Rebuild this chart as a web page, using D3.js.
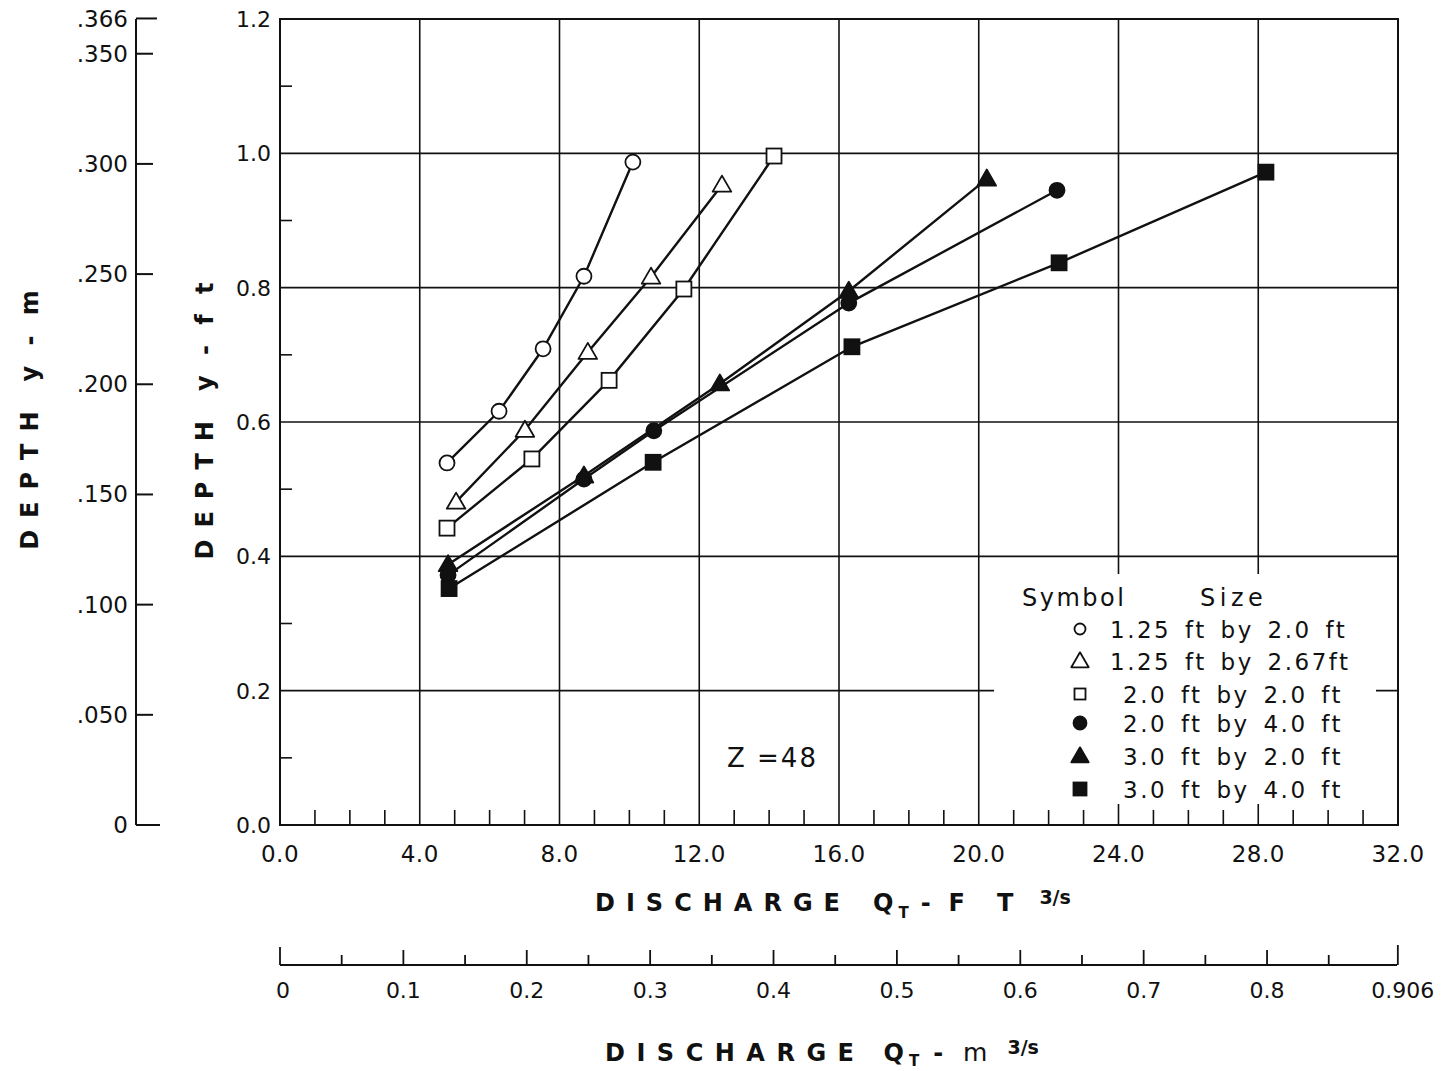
<!DOCTYPE html>
<html>
<head>
<meta charset="utf-8">
<script src="https://cdn.jsdelivr.net/npm/d3@7"></script>
<style>
  html, body { margin: 0; padding: 0; background: #fff; }
  svg { display: block; font-family: "DejaVu Sans", sans-serif; }
</style>
</head>
<body>
<svg id="chart" width="1443" height="1071"></svg>
<script>
// ---------------- DATA ----------------
const seriesLabels = ["1.25 ft by 2.0 ft", "1.25 ft by 2.67ft", "2.0 ft by 2.0 ft",
                      "2.0 ft by 4.0 ft", "3.0 ft by 2.0 ft", "3.0 ft by 4.0 ft"];
const seriesSymbols = ["circle", "triangle", "square", "circle", "triangle", "square"];
const seriesFilled = [false, false, false, true, true, true];

const q_125x20 = [4.78, 6.27, 7.53, 8.70, 10.10];
const y_125x20 = [0.539, 0.616, 0.709, 0.817, 0.987];

const q_125x267 = [5.04, 7.01, 8.81, 10.62, 12.65];
const y_125x267 = [0.481, 0.588, 0.704, 0.816, 0.953];

const q_20x20 = [4.78, 7.21, 9.42, 11.56, 14.14];
const y_20x20 = [0.442, 0.545, 0.662, 0.798, 0.996];

const q_20x40 = [4.81, 8.70, 10.70, 16.28, 22.24];
const y_20x40 = [0.372, 0.515, 0.587, 0.777, 0.945];

const q_30x20 = [4.81, 8.70, 12.59, 16.28, 20.23];
const y_30x20 = [0.388, 0.520, 0.657, 0.795, 0.962];

const q_30x40 = [4.84, 10.68, 16.37, 22.30, 28.22];
const y_30x40 = [0.352, 0.540, 0.712, 0.837, 0.972];

const seriesQ = [q_125x20, q_125x267, q_20x20, q_20x40, q_30x20, q_30x40];
const seriesY = [y_125x20, y_125x267, y_20x20, y_20x40, y_30x20, y_30x40];

const xTicksFt = [0, 4, 8, 12, 16, 20, 24, 28, 32];
const xTickLabelsFt = ["0.0", "4.0", "8.0", "12.0", "16.0", "20.0", "24.0", "28.0", "32.0"];
const yTicksFt = [0, 0.2, 0.4, 0.6, 0.8, 1.0, 1.2];
const yTickLabelsFt = ["0.0", "0.2", "0.4", "0.6", "0.8", "1.0", "1.2"];
const yTicksM = [0, 0.05, 0.10, 0.15, 0.20, 0.25, 0.30, 0.35, 0.366];
const yTickLabelsM = ["0", ".050", ".100", ".150", ".200", ".250", ".300", ".350", ".366"];
const xTicksM = [0, 0.1, 0.2, 0.3, 0.4, 0.5, 0.6, 0.7, 0.8, 0.906];
const xTickLabelsM = ["0", "0.1", "0.2", "0.3", "0.4", "0.5", "0.6", "0.7", "0.8", "0.906"];
const annotation = "Z =48";

// ---------------- LAYOUT ----------------
const svg = d3.select("#chart");
const X0 = 280, X1 = 1398, Y0 = 825, Y1 = 19;
const x = d3.scaleLinear().domain([0, 32]).range([X0, X1]);
const y = d3.scaleLinear().domain([0, 1.2]).range([Y0, Y1]);
const yM = d3.scaleLinear().domain([0, 1.2 * 0.3048]).range([Y0, Y1]);
const xM = d3.scaleLinear().domain([0, 32 * 0.0283168]).range([X0, X1]);

const ink = "#111";

// grid lines
const grid = svg.append("g").attr("stroke", ink).attr("stroke-width", 1.6);
grid.selectAll("line.gx").data(xTicksFt.slice(1, -1)).join("line")
  .attr("x1", d => x(d)).attr("x2", d => x(d)).attr("y1", Y1).attr("y2", Y0);
grid.selectAll("line.gy").data(yTicksFt.slice(1, -1)).join("line")
  .attr("x1", X0).attr("x2", X1).attr("y1", d => y(d)).attr("y2", d => y(d));

// frame
svg.append("rect").attr("x", X0).attr("y", Y1).attr("width", X1 - X0).attr("height", Y0 - Y1)
  .attr("fill", "none").attr("stroke", ink).attr("stroke-width", 2);

// minor ticks (inside)
const minorX = d3.range(1, 32).filter(d => d % 4 !== 0);
svg.append("g").attr("stroke", ink).attr("stroke-width", 1.6)
  .selectAll("line").data(minorX).join("line")
  .attr("x1", d => x(d)).attr("x2", d => x(d)).attr("y1", Y0).attr("y2", Y0 - 15);
const minorY = [0.1, 0.3, 0.5, 0.7, 0.9, 1.1];
svg.append("g").attr("stroke", ink).attr("stroke-width", 1.6)
  .selectAll("line").data(minorY).join("line")
  .attr("x1", X0).attr("x2", X0 + 12).attr("y1", d => y(d)).attr("y2", d => y(d));

// tick labels ft
svg.append("g").selectAll("text").data(xTicksFt).join("text")
  .attr("x", d => x(d)).attr("y", 862).attr("text-anchor", "middle")
  .attr("font-size", 23).attr("letter-spacing", 0.5).attr("fill", ink)
  .text((d, i) => xTickLabelsFt[i]);
svg.append("g").selectAll("text").data(yTicksFt).join("text")
  .attr("x", 271).attr("y", d => y(d) + 8).attr("text-anchor", "end")
  .attr("font-size", 22).attr("fill", ink)
  .text((d, i) => yTickLabelsFt[i]);

// left metric axis
const MX = 136;
svg.append("line").attr("x1", MX).attr("x2", MX).attr("y1", Y1).attr("y2", Y0)
  .attr("stroke", ink).attr("stroke-width", 2);
svg.append("g").attr("stroke", ink).attr("stroke-width", 2)
  .selectAll("line").data(yTicksM).join("line")
  .attr("x1", MX).attr("x2", (d, i) => (i === 0 ? MX + 24 : (d > 0.36 ? MX + 21 : MX + 17)))
  .attr("y1", d => yM(d)).attr("y2", d => yM(d));
svg.append("g").selectAll("text").data(yTicksM).join("text")
  .attr("x", 128).attr("y", (d, i) => yM(d) + 8 + (d > 0.36 ? 1 : 0))
  .attr("text-anchor", "end")
  .attr("font-size", 23).attr("fill", ink)
  .text((d, i) => yTickLabelsM[i]);

// bottom metric axis
const MY = 965;
svg.append("line").attr("x1", X0).attr("x2", X1 - 1).attr("y1", MY).attr("y2", MY)
  .attr("stroke", ink).attr("stroke-width", 2);
const mTicks = d3.range(0, 18).map(i => i * 0.05).concat([0.906]);
svg.append("g").attr("stroke", ink).attr("stroke-width", 1.8)
  .selectAll("line").data(mTicks).join("line")
  .attr("x1", d => xM(d)).attr("x2", d => xM(d)).attr("y1", MY)
  .attr("y2", d => {
    if (d === 0) return MY - 18;
    if (d > 0.9) return MY - 20;
    const k = Math.round(d * 100);
    return k % 10 === 0 ? MY - 15 : MY - 10;
  });
svg.append("g").selectAll("text").data(xTicksM).join("text")
  .attr("x", (d, i) => xM(d) + (i === 0 ? 3 : (i === xTicksM.length - 1 ? 5 : 0)))
  .attr("y", 998).attr("text-anchor", "middle")
  .attr("font-size", 22).attr("fill", ink)
  .text((d, i) => xTickLabelsM[i]);

// axis titles
{
  const t = svg.append("text").attr("x", 595).attr("y", 911)
    .attr("font-size", 24).attr("font-weight", "bold").attr("fill", ink);
  t.append("tspan").attr("letter-spacing", 11).text("DISCHARGE");
  t.append("tspan").attr("dx", 22).text("Q");
  t.append("tspan").attr("dy", 7).attr("dx", 5).attr("font-size", 15).text("T");
  t.append("tspan").attr("dy", -7).attr("dx", 12).text("-");
  t.append("tspan").attr("dx", 18).text("F");
  t.append("tspan").attr("dx", 32).text("T");
  t.append("tspan").attr("dy", -7).attr("dx", 26).attr("font-size", 19).text("3/s");
}
{
  const t = svg.append("text").attr("x", 605).attr("y", 1061)
    .attr("font-size", 24).attr("font-weight", "bold").attr("fill", ink);
  t.append("tspan").attr("letter-spacing", 11.5).text("DISCHARGE");
  t.append("tspan").attr("dx", 18).text("Q");
  t.append("tspan").attr("dy", 5).attr("dx", 5).attr("font-size", 15).text("T");
  t.append("tspan").attr("dy", -5).attr("dx", 14).text("-");
  t.append("tspan").attr("dx", 20).attr("font-weight", "normal").attr("font-size", 25).text("m");
  t.append("tspan").attr("dy", -7).attr("dx", 20).attr("font-size", 19).text("3/s");
}

function sideTitle(cx, cy, unit, unitSpacing) {
  const t = svg.append("text").attr("transform", `translate(${cx},${cy}) rotate(-90)`)
    .attr("text-anchor", "middle").attr("font-size", 24).attr("font-weight", "bold").attr("fill", ink);
  t.append("tspan").attr("letter-spacing", 12).text("DEPTH");
  t.append("tspan").attr("dx", 18).attr("letter-spacing", unitSpacing).text(unit);
}
sideTitle(38, 417, "y - m", 6);
sideTitle(213, 418, "y - f t", 6);

// legend background (masks grid)
svg.append("rect").attr("x", 994).attr("y", 574).attr("width", 382).attr("height", 230)
  .attr("fill", "#fff");

// series lines and markers
const line = d3.line().x(d => x(d[0])).y(d => y(d[1]));
function drawSymbol(g, type, filled, cx, cy, s) {
  const fill = filled ? ink : "#fff";
  if (type === "circle") {
    g.append("circle").attr("cx", cx).attr("cy", cy).attr("r", s * 0.5)
      .attr("fill", fill).attr("stroke", ink).attr("stroke-width", 1.8);
  } else if (type === "square") {
    g.append("rect").attr("x", cx - s * 0.5).attr("y", cy - s * 0.5).attr("width", s).attr("height", s)
      .attr("fill", fill).attr("stroke", ink).attr("stroke-width", 1.8);
  } else {
    const h = s * 1.0;
    g.append("path")
      .attr("d", `M${cx},${cy - h * 0.62} L${cx + h * 0.62},${cy + h * 0.45} L${cx - h * 0.62},${cy + h * 0.45} Z`)
      .attr("fill", fill).attr("stroke", ink).attr("stroke-width", 1.8).attr("stroke-linejoin", "round");
  }
}
const plot = svg.append("g");
seriesQ.forEach((qs, i) => {
  const pts = qs.map((q, j) => [q, seriesY[i][j]]);
  plot.append("path").datum(pts).attr("d", line)
    .attr("fill", "none").attr("stroke", ink).attr("stroke-width", 2.4);
});
seriesQ.forEach((qs, i) => {
  const g = plot.append("g");
  qs.forEach((q, j) => {
    drawSymbol(g, seriesSymbols[i], seriesFilled[i], x(q), y(seriesY[i][j]), 15);
  });
});

// annotation
svg.append("text").attr("x", 727).attr("y", 767).attr("font-size", 26).attr("letter-spacing", 2).attr("fill", ink)
  .text(annotation);

// legend
const leg = svg.append("g").attr("fill", ink);
leg.append("text").attr("x", 1022).attr("y", 606).attr("font-size", 24).attr("letter-spacing", 2.5).text("Symbol");
leg.append("text").attr("x", 1200).attr("y", 606).attr("font-size", 24).attr("letter-spacing", 4.5).text("Size");
const rowY = [629, 661, 694, 723, 756, 789];
seriesLabels.forEach((lab, i) => {
  const g = leg.append("g");
  const sz = seriesSymbols[i] === "triangle" ? 14 : (seriesFilled[i] ? 13 : 11);
  drawSymbol(g, seriesSymbols[i], seriesFilled[i], 1080, rowY[i], sz);
  g.append("text").attr("x", lab.startsWith("1.25") ? 1110 : 1123).attr("y", rowY[i] + 9)
    .attr("font-size", 23).attr("letter-spacing", 2.5).attr("word-spacing", 4).text(lab);
});
</script>
</body>
</html>
